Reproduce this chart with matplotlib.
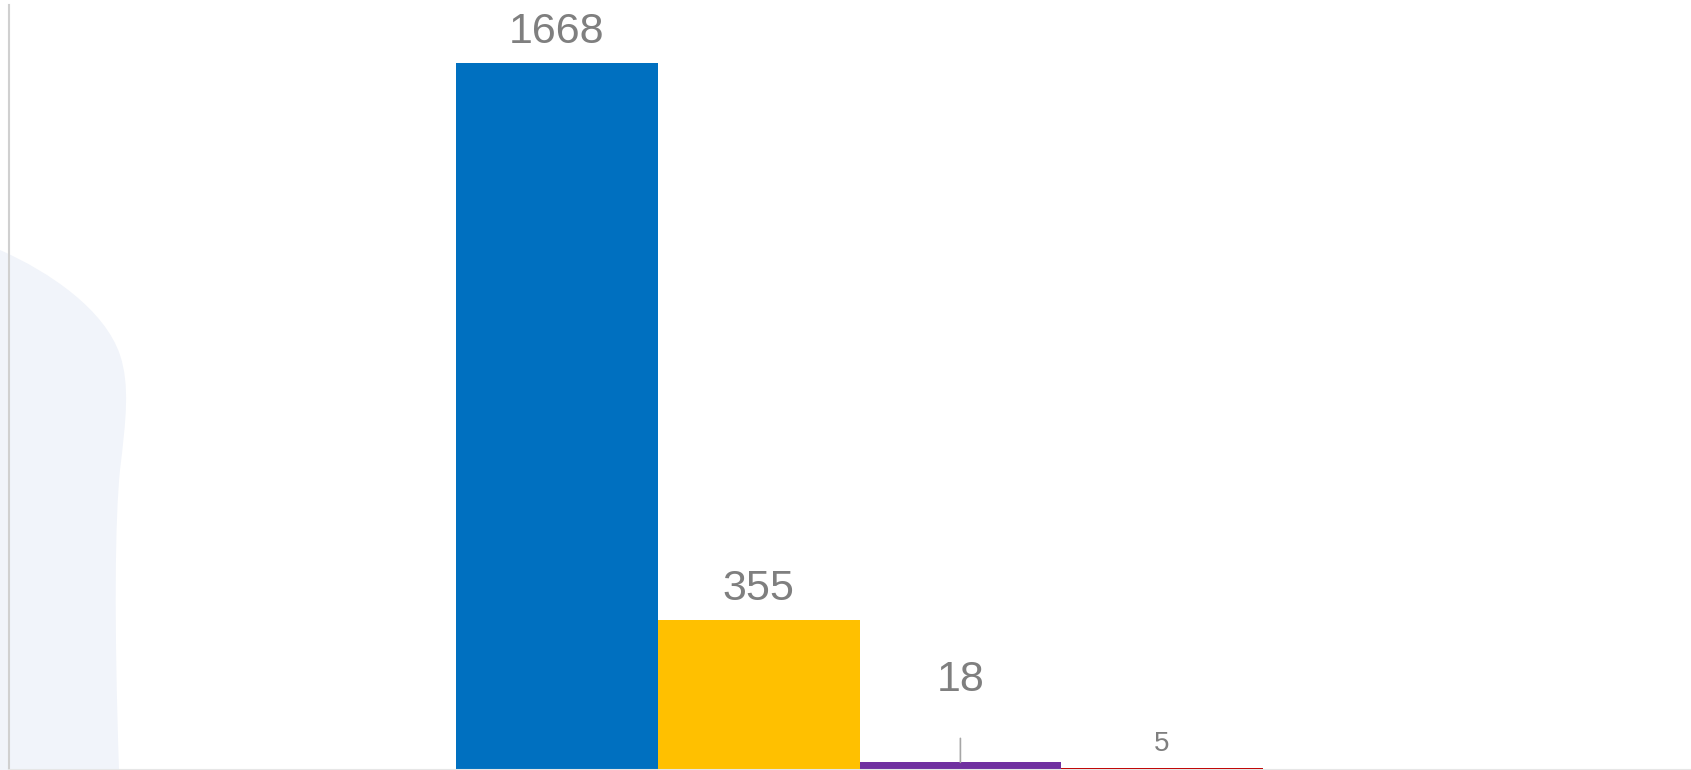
# bar chart of counts with value labels
import matplotlib.pyplot as plt
from matplotlib.path import Path
from matplotlib.patches import PathPatch

plt.rcParams['font.family'] = ['Liberation Sans', 'DejaVu Sans']

# data
categories = ['A', 'B', 'C', 'D']
values = [1668, 355, 18, 5]
colors = ['#0070C0', '#FFC000', '#7030A0', '#C00000']

W, H = 1691, 770
fig = plt.figure(figsize=(W / 100, H / 100), dpi=100)

# light decorative shape on the left, in pixel coords (top-left origin)
def px(x, y):
  return (x / W, 1 - y / H)

verts = [px(0, 250),
         px(50, 272), px(105, 310), px(120, 355),
         px(130, 385), px(126, 420), px(120, 470),
         px(115, 520), px(114, 620), px(119, 770),
         px(0, 770), px(0, 250)]
codes = [Path.MOVETO,
         Path.CURVE4, Path.CURVE4, Path.CURVE4,
         Path.CURVE4, Path.CURVE4, Path.CURVE4,
         Path.CURVE4, Path.CURVE4, Path.CURVE4,
         Path.LINETO, Path.CLOSEPOLY]
blob = PathPatch(Path(verts, codes), facecolor='#F1F4FA', edgecolor='none',
                 transform=fig.transFigure, zorder=-5)
fig.patches.append(blob)

left = 8.5 / W
ax = fig.add_axes([left, 0.0, 1 - left, 765 / H])
ax.patch.set_alpha(0)
ax.set_zorder(1)

x = list(range(len(categories)))
ax.bar(x, values, width=1.0, color=colors, zorder=2)

# axis scales so bars sit like the original
bar_px = 201.7
first_center = 557
ax.set_xlim((left * W - first_center) / bar_px, (W - first_center) / bar_px)
ax.set_ylim(0, 765 / 0.42386)

# value labels
label_color = '#7F7F7F'
offsets = [20, 20, 71, 17]
sizes = [31, 31, 31, 20]
for i, v in enumerate(values):
  ax.annotate(str(v), (x[i], v), xytext=(0, offsets[i]), textcoords='offset pixels',
              ha='center', va='baseline', fontsize=sizes[i], color=label_color)

# leader line for the small purple bar
ax.annotate('', (x[2], values[2]), xytext=(0, 24), textcoords='offset pixels',
            arrowprops=dict(arrowstyle='-', color='#A6A6A6', lw=1.2,
                            shrinkA=0, shrinkB=0))

for s in ['top', 'right']:
  ax.spines[s].set_visible(False)
ax.spines['left'].set_color('#D0D0D0')
ax.spines['left'].set_linewidth(1.5)
ax.spines['bottom'].set_color('#E6E6E6')
ax.spines['bottom'].set_linewidth(1.5)
ax.set_xticks([])
ax.set_yticks([])

fig.savefig('out.png', dpi=100)
